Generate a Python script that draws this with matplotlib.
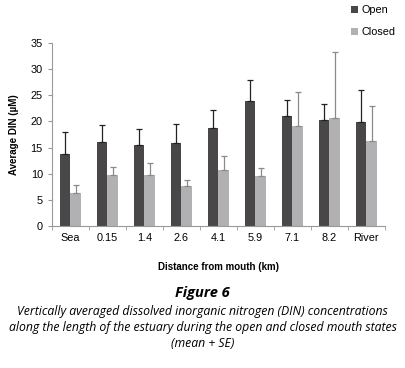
import numpy as np
import matplotlib
matplotlib.use("Agg")
import matplotlib.pyplot as plt

plt.rcParams["font.family"] = ["Liberation Sans", "DejaVu Sans"]

sites = ["Sea", "0.15", "1.4", "2.6", "4.1", "5.9", "7.1", "8.2", "River"]
open_mean = [13.8, 16.1, 15.4, 15.8, 18.8, 23.9, 21.0, 20.3, 19.8]
open_se = [4.2, 3.3, 3.1, 3.7, 3.3, 4.1, 3.1, 3.0, 6.3]
closed_mean = [6.3, 9.7, 9.8, 7.6, 10.7, 9.5, 19.2, 20.6, 16.2]
closed_se = [1.6, 1.6, 2.2, 1.1, 2.6, 1.6, 6.4, 12.6, 6.8]

DARK, LIGHT = "#4a4749", "#b1b0b2"

fig = plt.figure(figsize=(4.05, 3.68), dpi=100)
ax = fig.add_axes([0.128, 0.386, 0.822, 0.497])

x = np.arange(len(sites))
w = 0.285
ax.bar(x - w / 2, open_mean, w, color=DARK, label="Open",
       yerr=[np.zeros(len(x)), open_se], error_kw=dict(ecolor="#222222", lw=0.9, capsize=2.2, capthick=0.9))
ax.bar(x + w / 2, closed_mean, w, color=LIGHT, label="Closed",
       yerr=[np.zeros(len(x)), closed_se], error_kw=dict(ecolor="#8a898b", lw=0.9, capsize=2.2, capthick=0.9))

ax.set_xlim(-0.5, len(sites) - 0.5)
ax.set_ylim(0, 35)
ax.set_yticks(range(0, 36, 5))
ax.set_xticks(x)
ax.set_xticklabels(sites)
ax.set_xticks(np.arange(-0.5, len(sites), 1), minor=True)
ax.tick_params(axis="x", which="major", length=0, labelsize=7.8, pad=5)
ax.tick_params(axis="x", which="minor", length=3, color="#999999")
ax.tick_params(axis="y", length=3, color="#999999", labelsize=7.8)
for s in ["top", "right"]:
    ax.spines[s].set_visible(False)
for s in ["left", "bottom"]:
    ax.spines[s].set_color("#999999")
    ax.spines[s].set_linewidth(0.8)

ax.set_ylabel("Average DIN (µM)", fontsize=7, fontweight="bold", labelpad=8)
ax.set_xlabel("Distance from mouth (km)", fontsize=7, fontweight="bold", labelpad=14)

fig.legend(loc="upper right", bbox_to_anchor=(1.0, 1.012), frameon=False, fontsize=7.8,
           handlelength=0.6, handleheight=0.6, handletextpad=0.3, labelspacing=1.1)

cap = ("Vertically averaged dissolved inorganic nitrogen (DIN) concentrations\n"
       "along the length of the estuary during the open and closed mouth states\n"
       "(mean + SE)")
fig.text(0.5, 0.203, "Figure 6", ha="center", va="center", fontsize=10.5,
         fontweight="bold", style="italic", family=["Open Sans", "DejaVu Sans"])
fig.text(0.5, 0.109, cap, ha="center", va="center", fontsize=8.8, style="italic",
         family=["Open Sans", "DejaVu Sans"], linespacing=1.3)

fig.savefig("out.png", dpi=100)
